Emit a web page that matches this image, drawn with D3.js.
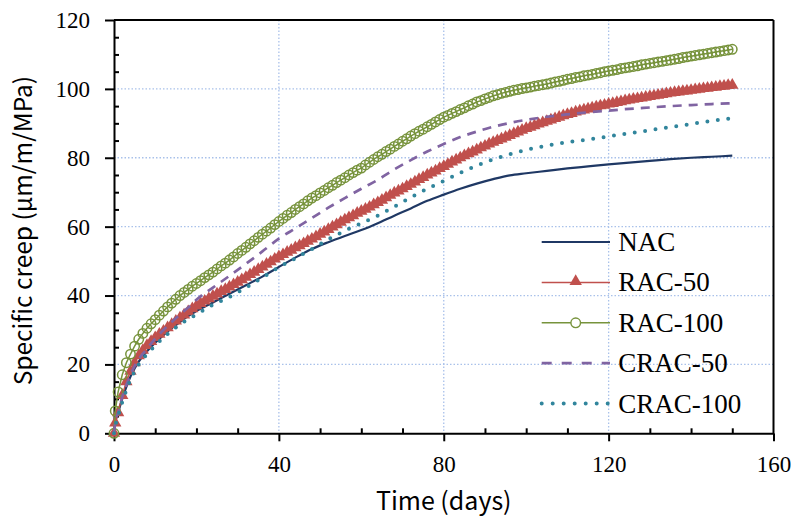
<!DOCTYPE html>
<html>
<head>
<meta charset="utf-8">
<script src="https://cdnjs.cloudflare.com/ajax/libs/d3/7.8.5/d3.min.js"></script>
<style>
    body { margin: 0; background: #fff; }
</style>
</head>
<body>
<script>

    // daily readings (marker series)
    var days = [0, 0.3, 1, 2, 3, 4, 5, 6, 7, 8, 9, 10, 11, 12, 13, 14, 15, 16, 17, 18, 19, 20,
        21, 22, 23, 24, 25, 26, 27, 28, 29, 30, 31, 32, 33, 34, 35, 36, 37, 38, 39, 40,
        41, 42, 43, 44, 45, 46, 47, 48, 49, 50, 51, 52, 53, 54, 55, 56, 57, 58, 59, 60,
        61, 62, 63, 64, 65, 66, 67, 68, 69, 70, 71, 72, 73, 74, 75, 76, 77, 78, 79, 80,
        81, 82, 83, 84, 85, 86, 87, 88, 89, 90, 91, 92, 93, 94, 95, 96, 97, 98, 99, 100,
        101, 102, 103, 104, 105, 106, 107, 108, 109, 110, 111, 112, 113, 114, 115, 116, 117, 118, 119, 120,
        121, 122, 123, 124, 125, 126, 127, 128, 129, 130, 131, 132, 133, 134, 135, 136, 137, 138, 139, 140,
        141, 142, 143, 144, 145, 146, 147, 148, 149, 150];

    var rac50 = [0, 3, 6, 11, 15, 18, 20.5, 22.5, 24.1, 25.5, 26.7, 27.8, 28.8, 29.7, 30.7, 31.6, 32.6, 33.5, 34.4, 35.3, 36.2, 37,
        37.7, 38.4, 39.1, 39.8, 40.5, 41.2, 41.8, 42.5, 43.2, 43.9, 44.6, 45.3, 46.1, 46.8, 47.6, 48.3, 49.1, 49.8, 50.6, 51.3,
        51.9, 52.6, 53.2, 53.9, 54.5, 55.1, 55.8, 56.4, 57.1, 57.8, 58.5, 59.2, 59.9, 60.6, 61.3, 62, 62.6, 63.2, 63.9, 64.5,
        65.1, 65.7, 66.4, 67, 67.7, 68.4, 69.1, 69.8, 70.4, 71, 71.7, 72.3, 73, 73.7, 74.3, 75, 75.6, 76.2, 76.9, 77.5,
        78.1, 78.8, 79.4, 80, 80.6, 81.2, 81.7, 82.3, 82.9, 83.4, 84, 84.5, 85, 85.5, 86, 86.5, 87, 87.5, 88, 88.5,
        88.9, 89.3, 89.8, 90.2, 90.6, 91, 91.4, 91.8, 92.2, 92.6, 92.9, 93.3, 93.6, 93.9, 94.2, 94.5, 94.8, 95.1, 95.3, 95.6,
        95.8, 96.1, 96.3, 96.6, 96.8, 97, 97.2, 97.4, 97.6, 97.8, 98, 98.2, 98.4, 98.6, 98.8, 99, 99.1, 99.3, 99.4, 99.6,
        99.8, 99.9, 100.1, 100.2, 100.4, 100.5, 100.7, 100.8, 101, 101.1];

    var rac100 = [0, 6.5, 12, 17, 20.5, 23, 25.3, 27.3, 29, 30.5, 31.8, 33, 34.3, 35.5, 36.7, 37.8, 38.9, 40, 40.9, 41.8, 42.7, 43.5,
        44.3, 45.2, 46, 46.8, 47.7, 48.6, 49.4, 50.3, 51.2, 52.2, 53.1, 54, 55, 55.9, 56.9, 57.8, 58.7, 59.6, 60.6, 61.5,
        62.4, 63.3, 64.1, 65, 65.8, 66.6, 67.5, 68.3, 69, 69.8, 70.5, 71.3, 72, 72.8, 73.5, 74.2, 75, 75.7, 76.4, 77,
        77.9, 78.7, 79.5, 80.3, 81, 81.8, 82.5, 83.3, 84, 84.8, 85.5, 86.3, 87, 87.7, 88.3, 89, 89.7, 90.4, 91.1, 91.8,
        92.3, 92.9, 93.4, 94, 94.5, 95.1, 95.6, 96.2, 96.6, 97.1, 97.5, 98, 98.3, 98.7, 99, 99.3, 99.6, 99.8, 100.1, 100.3,
        100.5, 100.8, 101, 101.2, 101.4, 101.7, 102, 102.2, 102.5, 102.8, 103, 103.3, 103.5, 103.8, 104, 104.2, 104.5, 104.7, 105, 105.2,
        105.4, 105.6, 105.9, 106.1, 106.3, 106.5, 106.7, 107, 107.2, 107.4, 107.6, 107.8, 108, 108.2, 108.4, 108.6, 108.8, 109.1, 109.3, 109.5,
        109.7, 109.9, 110.1, 110.3, 110.5, 110.7, 110.9, 111.1, 111.3, 111.5];

    // line-only series
    var daysLine = [0, 0.3, 1, 2, 3, 4, 5, 6, 8, 10, 12, 14, 16, 18, 20, 24, 28, 32, 36, 40,
        44, 48, 52, 56, 60, 64, 68, 72, 76, 80, 84, 88, 92, 96, 100,
        105, 110, 115, 120, 125, 130, 135, 140, 145, 150];

    var nac = [0, 3, 6, 10, 13.5, 16.5, 18.8, 20.8, 23.8, 26.3, 28.5, 30.5, 32.3, 34, 35.5, 38, 40.5, 43, 45.5, 48.3,
        51, 53.5, 55.5, 57.3, 59, 61, 63.2, 65.3, 67.5, 69.3, 71, 72.5, 73.8, 74.9, 75.5,
        76.2, 76.9, 77.5, 78.1, 78.6, 79.1, 79.6, 80, 80.3, 80.6];

    var crac50 = [0, 3, 6, 10.5, 14, 17, 19.5, 21.5, 24.5, 27.5, 30, 32.3, 34.5, 36.5, 38.8, 42.3, 45.7, 49.2, 52.8, 56.5,
        59.5, 62.5, 65.5, 68.3, 71, 73.6, 76.6, 79.3, 81.8, 84, 86, 87.6, 89, 90.1, 91,
        91.9, 92.6, 93.2, 93.7, 94.2, 94.6, 95, 95.3, 95.6, 95.8];

    var crac100 = [0, 2, 5, 9, 12.5, 15.5, 18, 20, 23, 25.5, 27.8, 29.8, 31.6, 33.1, 34.5, 37.3, 39.6, 42.3, 45.2, 48.2,
        50.8, 53.5, 56.3, 58.8, 61, 63.2, 65.8, 68.5, 71, 73.3, 75.6, 77.7, 79.5, 81, 82.3,
        83.5, 84.5, 85.3, 86.2, 87.1, 88, 88.9, 89.8, 90.7, 91.5];

    var seriesNames = ["NAC", "RAC-50", "RAC-100", "CRAC-50", "CRAC-100"];
    var xTicks = [0, 40, 80, 120, 160];
    var yTicks = [0, 20, 40, 60, 80, 100, 120];
    var xMinor = [10, 20, 30, 50, 60, 70, 90, 100, 110, 130, 140, 150];
    var yMinor = [5, 10, 15, 25, 30, 35, 45, 50, 55, 65, 70, 75, 85, 90, 95, 105, 110, 115];

    var margin = {top: 20, right: 23.5, bottom: 88.7, left: 114},
        width = 797 - margin.left - margin.right,
        height = 522 - margin.top - margin.bottom;

    var serif = "'Liberation Serif', 'Times New Roman', serif";
    var sans = "'Noto Sans CJK KR', 'Noto Sans', sans-serif";

    var svg = d3.select("body").append("svg")
        .attr("width", 797).attr("height", 522)
        .append("g")
        .attr("transform", "translate(" + margin.left + "," + margin.top + ")");

    var xScale = d3.scaleLinear().domain([0, 160]).range([0, width]);
    var yScale = d3.scaleLinear().domain([0, 120]).range([height, 0]);

    // grid
    var grid = svg.append("g").attr("class", "grid")
        .attr("stroke", "#a9c1ea").attr("stroke-width", 1.3).attr("stroke-dasharray", "1.5 2");
    grid.selectAll(".gx").data(xTicks.slice(1, -1)).enter().append("line")
        .attr("x1", function (d) { return xScale(d); }).attr("x2", function (d) { return xScale(d); })
        .attr("y1", 0).attr("y2", height);
    grid.selectAll(".gy").data(yTicks.slice(1, -1)).enter().append("line")
        .attr("y1", function (d) { return yScale(d); }).attr("y2", function (d) { return yScale(d); })
        .attr("x1", 0).attr("x2", width);

    // frame top/right
    svg.append("line").attr("x1", 0).attr("x2", width).attr("y1", 0).attr("y2", 0)
        .attr("stroke", "#000").attr("stroke-width", 2);
    svg.append("line").attr("x1", width).attr("x2", width).attr("y1", 0).attr("y2", height)
        .attr("stroke", "#000").attr("stroke-width", 2);

    // axes: major ticks out, minor ticks in
    var xAxis = d3.axisBottom(xScale).tickValues(xTicks).tickSize(8).tickSizeOuter(0).tickPadding(14);
    var yAxis = d3.axisLeft(yScale).tickValues(yTicks).tickSize(9).tickSizeOuter(0).tickPadding(15);

    var gx = svg.append("g").attr("class", "axis axis--x")
        .attr("transform", "translate(0," + height + ")")
        .call(xAxis);
    gx.append("g").call(d3.axisBottom(xScale).tickValues(xMinor).tickSize(-5).tickFormat(""))
        .select(".domain").remove();

    var gy = svg.append("g").attr("class", "axis axis--y").call(yAxis);
    gy.append("g").call(d3.axisLeft(yScale).tickValues(yMinor).tickSize(-5).tickFormat(""))
        .select(".domain").remove();

    svg.selectAll(".axis path, .axis line").attr("stroke", "#000").attr("stroke-width", 2);
    svg.selectAll(".axis text").attr("font-family", serif).attr("font-size", 23).attr("fill", "#000");

    // axis titles
    svg.append("text")
        .attr("x", width / 2).attr("y", height + 77)
        .attr("text-anchor", "middle")
        .attr("font-family", sans).attr("font-size", 25).attr("fill", "#000")
        .text("Time (days)");
    svg.append("text")
        .attr("transform", "translate(" + (-82) + "," + (height / 2 + 4) + ") rotate(-90)")
        .attr("text-anchor", "middle")
        .attr("font-family", sans).attr("font-size", 24.5).attr("fill", "#000")
        .text("Specific creep (μm/m/MPa)");

    // series
    var plot = svg.append("g").attr("class", "series");

    function lineFor(xs) {
        return d3.line()
            .x(function (d, i) { return xScale(xs[i]); })
            .y(function (d) { return yScale(d); });
    }

    plot.append("path").datum(nac)
        .attr("d", lineFor(daysLine).curve(d3.curveMonotoneX))
        .attr("fill", "none").attr("stroke", "#1f3864").attr("stroke-width", 2.2);

    plot.append("path").datum(rac50)
        .attr("d", lineFor(days))
        .attr("fill", "none").attr("stroke", "#c0504d").attr("stroke-width", 1.5);
    plot.selectAll(".tri").data(rac50).enter().append("path")
        .attr("class", "tri")
        .attr("transform", function (d, i) { return "translate(" + xScale(days[i]) + "," + yScale(d) + ")"; })
        .attr("d", d3.symbol().type(d3.symbolTriangle).size(66))
        .attr("fill", "#c0504d");

    plot.append("path").datum(rac100)
        .attr("d", lineFor(days))
        .attr("fill", "none").attr("stroke", "#77933c").attr("stroke-width", 1.5);
    plot.selectAll(".circ").data(rac100).enter().append("circle")
        .attr("class", "circ")
        .attr("cx", function (d, i) { return xScale(days[i]); })
        .attr("cy", function (d) { return yScale(d); })
        .attr("r", 4.7)
        .attr("fill", "none").attr("stroke", "#77933c").attr("stroke-width", 1.5);

    plot.append("path").datum(crac50)
        .attr("d", lineFor(daysLine).curve(d3.curveMonotoneX))
        .attr("fill", "none").attr("stroke", "#8064a2").attr("stroke-width", 2.7)
        .attr("stroke-dasharray", "9 7");

    plot.append("path").datum(crac100)
        .attr("d", lineFor(daysLine).curve(d3.curveMonotoneX))
        .attr("fill", "none").attr("stroke", "#31859c").attr("stroke-width", 4)
        .attr("stroke-linecap", "round").attr("stroke-dasharray", "0 10.5");

    // legend
    var legendStyles = [
        {stroke: "#1f3864", w: 2.2, dash: null, cap: "butt"},
        {stroke: "#c0504d", w: 1.5, dash: null, cap: "butt"},
        {stroke: "#77933c", w: 1.5, dash: null, cap: "butt"},
        {stroke: "#8064a2", w: 2.7, dash: "10 10", cap: "butt"},
        {stroke: "#31859c", w: 4, dash: "0 11", cap: "round"}
    ];
    var legend = svg.append("g")
        .attr("transform", "translate(" + (541.7 - margin.left) + "," + (242 - margin.top) + ")");
    var rows = legend.selectAll(".row").data(seriesNames).enter().append("g")
        .attr("transform", function (d, i) { return "translate(0," + (i * 40.4) + ")"; });
    rows.append("line")
        .attr("x1", 0).attr("x2", 68.3).attr("y1", 0).attr("y2", 0)
        .attr("stroke", function (d, i) { return legendStyles[i].stroke; })
        .attr("stroke-width", function (d, i) { return legendStyles[i].w; })
        .attr("stroke-dasharray", function (d, i) { return legendStyles[i].dash; })
        .attr("stroke-linecap", function (d, i) { return legendStyles[i].cap; });
    rows.filter(function (d, i) { return i === 1; }).append("path")
        .attr("transform", "translate(34,-1)")
        .attr("d", d3.symbol().type(d3.symbolTriangle).size(66))
        .attr("fill", "#c0504d");
    rows.filter(function (d, i) { return i === 2; }).append("circle")
        .attr("cx", 34).attr("cy", 0).attr("r", 4.8)
        .attr("fill", "#fff").attr("stroke", "#77933c").attr("stroke-width", 1.4);
    rows.append("text")
        .attr("x", 76.5).attr("y", 9)
        .attr("font-family", serif).attr("font-size", 27).attr("fill", "#000")
        .text(function (d) { return d; });

</script>
</body>
</html>
